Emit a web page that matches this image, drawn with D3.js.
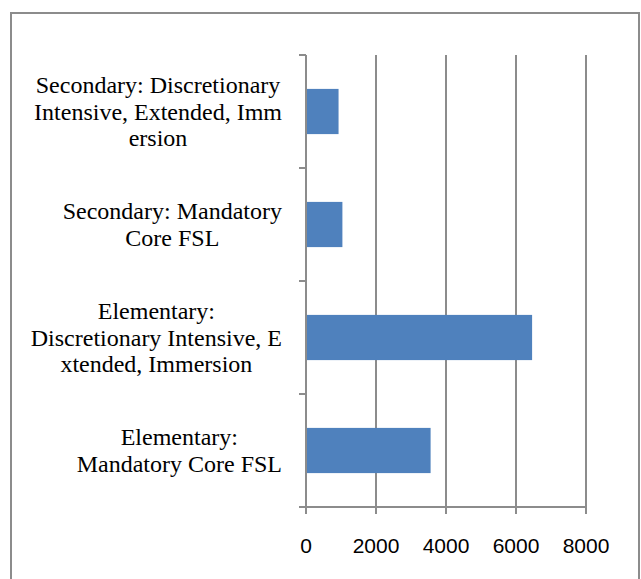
<!DOCTYPE html>
<html>
<head>
<meta charset="utf-8">
<script src="https://cdn.jsdelivr.net/npm/d3@7"></script>
<style>
  body { margin: 0; background: #fff; }
</style>
</head>
<body>
<figure id="bar" style="margin:0"></figure>
<script>
// categories, top to bottom
const categories = [
  "Secondary: Discretionary Intensive, Extended, Immersion",
  "Secondary: Mandatory Core FSL",
  "Elementary: Discretionary Intensive, Extended, Immersion",
  "Elementary: Mandatory Core FSL"
];
// how the labels wrap in the picture
const labelLines = [
  ["Secondary: Discretionary", "Intensive, Extended, Imm", "ersion"],
  ["Secondary: Mandatory", "Core FSL"],
  ["Elementary:", "Discretionary Intensive, E", "xtended, Immersion"],
  ["Elementary:", "Mandatory Core FSL"]
];
const values = [930, 1040, 6460, 3560];
const xTicks = [0, 2000, 4000, 6000, 8000];

const W = 641, H = 579;
const plotL = 306, plotR = 586, plotT = 55, plotB = 507;
const gray = "#8c8c8c";

const svg = d3.select("figure#bar")
  .append("svg")
  .attr("width", W)
  .attr("height", H);

// outer frame (bottom edge falls outside the picture)
svg.append("rect")
  .attr("x", 11).attr("y", 13)
  .attr("width", 628).attr("height", 620)
  .attr("fill", "none")
  .attr("stroke", gray)
  .attr("stroke-width", 2);

const x = d3.scaleLinear()
  .domain([0, 8000])
  .range([plotL, plotR]);

const y = d3.scaleBand()
  .domain(categories)
  .range([plotT, plotB])
  .paddingInner(0.6)
  .paddingOuter(0.3);

// vertical gridlines
svg.append("g")
  .selectAll("line")
  .data(xTicks.slice(1))
  .enter()
  .append("line")
  .attr("x1", d => x(d)).attr("x2", d => x(d))
  .attr("y1", plotT).attr("y2", plotB)
  .attr("stroke", gray)
  .attr("stroke-width", 2);

// bars
svg.selectAll("bars")
  .data(values)
  .enter()
  .append("rect")
  .attr("x", x(0) + 1)
  .attr("y", (d, i) => y(categories[i]))
  .attr("width", d => x(d) - x(0) - 1)
  .attr("height", y.bandwidth())
  .attr("fill", "#4f81bd");

// x axis line + ticks
svg.append("line")
  .attr("x1", plotL - 7).attr("x2", plotR)
  .attr("y1", plotB).attr("y2", plotB)
  .attr("stroke", gray).attr("stroke-width", 2);

svg.append("g")
  .selectAll("line")
  .data(xTicks)
  .enter()
  .append("line")
  .attr("x1", d => x(d)).attr("x2", d => x(d))
  .attr("y1", plotB).attr("y2", plotB + 7)
  .attr("stroke", gray).attr("stroke-width", 2);

svg.append("g")
  .selectAll("text")
  .data(xTicks)
  .enter()
  .append("text")
  .attr("x", d => x(d))
  .attr("y", 553)
  .attr("text-anchor", "middle")
  .attr("font-family", "Liberation Sans, Arial, sans-serif")
  .attr("font-size", 21)
  .attr("fill", "#000")
  .text(d => d);

// y axis line + ticks at band boundaries
svg.append("line")
  .attr("x1", plotL).attr("x2", plotL)
  .attr("y1", plotT).attr("y2", plotB)
  .attr("stroke", gray).attr("stroke-width", 2);

const bounds = d3.range(categories.length + 1).map(i => plotT + i * y.step());
svg.append("g")
  .selectAll("line")
  .data(bounds)
  .enter()
  .append("line")
  .attr("x1", plotL - 7).attr("x2", plotL)
  .attr("y1", d => d).attr("y2", d => d)
  .attr("stroke", gray).attr("stroke-width", 2);

// category labels: centered lines, block right-aligned at the axis
const lineH = 26.5;
const labelRight = 282;
categories.forEach((c, i) => {
  const cy = y(c) + y.bandwidth() / 2;
  const lines = labelLines[i];
  const g = svg.append("g");
  const t = g.selectAll("text")
    .data(lines)
    .enter()
    .append("text")
    .attr("y", (d, j) => cy + (j - (lines.length - 1) / 2) * lineH + 8)
    .attr("text-anchor", "middle")
    .attr("font-family", "Liberation Serif, Times New Roman, serif")
    .attr("font-size", 24)
    .attr("fill", "#000")
    .text(d => d);
  let maxW = 0;
  t.each(function () { maxW = Math.max(maxW, this.getComputedTextLength()); });
  t.attr("x", labelRight - maxW / 2);
});
</script>
</body>
</html>
